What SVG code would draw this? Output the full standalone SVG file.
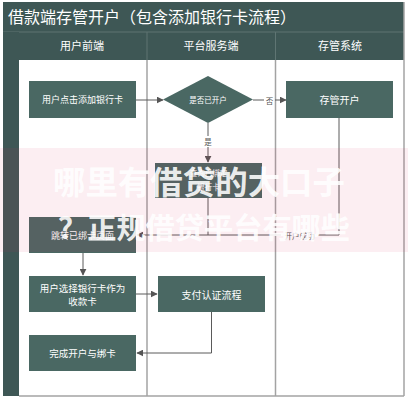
<svg xmlns="http://www.w3.org/2000/svg" width="408" height="400" viewBox="0 0 408 400">
<style>
text{font-family:"Noto Sans CJK SC","Liberation Sans",sans-serif;}
.box{fill:#4a6863;}
.bt{fill:#ffffff;font-size:9px;text-anchor:middle;dominant-baseline:central;}
.ht{fill:#ffffff;font-size:11px;text-anchor:middle;}
.lane{stroke:#a3a3a3;stroke-width:1.5;fill:none;}
.con{stroke:#5a5a5a;stroke-width:1;fill:none;}
.lbl{fill:#555555;font-size:7.5px;text-anchor:middle;dominant-baseline:central;}
.wm{fill:#ffffff;font-weight:bold;fill-opacity:0.9;}
</style>
<defs>
<marker id="arr" viewBox="0 0 10 10" refX="9" refY="5" markerWidth="7" markerHeight="7" orient="auto" markerUnits="userSpaceOnUse">
<path d="M0,0 L10,5 L0,10 z" fill="#555555"/>
</marker>
</defs>
<rect x="0" y="0" width="408" height="400" fill="#ffffff"/>
<g id="frame">
<rect x="3" y="2" width="401" height="30" fill="#3e5755"/>
<text x="8" y="23" fill="#ffffff" font-size="16">借款端存管开户（包含添加银行卡流程）</text>
<rect x="3" y="32" width="401" height="28" fill="#3e5755"/>
<line x1="3" y1="32" x2="404" y2="32" stroke="#5f7573" stroke-width="1"/>
<rect x="3" y="32" width="16" height="364" fill="#3e5755"/>
<line x1="147" y1="32" x2="147" y2="60" stroke="#5f7573" stroke-width="1"/>
<line x1="275.5" y1="32" x2="275.5" y2="60" stroke="#5f7573" stroke-width="1"/>
<text class="ht" x="82" y="50">用户前端</text>
<text class="ht" x="211" y="50">平台服务端</text>
<text class="ht" x="340" y="50">存管系统</text>
<line class="lane" x1="147" y1="60" x2="147" y2="396"/>
<line class="lane" x1="275.5" y1="60" x2="275.5" y2="396"/>
<line class="lane" x1="404" y1="2" x2="404" y2="396"/>
<line class="lane" x1="19" y1="396" x2="404" y2="396"/>
</g>
<g id="connectors">
<line class="con" x1="136" y1="100" x2="163" y2="100" marker-end="url(#arr)"/>
<line class="con" x1="253" y1="100" x2="264" y2="100"/>
<line class="con" x1="275" y1="100" x2="286" y2="100" marker-end="url(#arr)"/>
<text class="lbl" x="269.5" y="100">否</text>
<line class="con" x1="208" y1="123" x2="208" y2="136"/>
<line class="con" x1="208" y1="147" x2="208" y2="162" marker-end="url(#arr)"/>
<text class="lbl" x="208" y="141.5">是</text>
<polyline class="con" points="339,118 339,235 318,235"/>
<line class="con" x1="281" y1="235" x2="137" y2="235" marker-end="url(#arr)"/>
<text class="lbl" x="299.5" y="235">开户成功</text>
<line class="con" x1="208" y1="198" x2="208" y2="235"/>
<line class="con" x1="83" y1="253" x2="83" y2="275" marker-end="url(#arr)"/>
<line class="con" x1="136" y1="294" x2="157" y2="294" marker-end="url(#arr)"/>
<polyline class="con" points="211.5,312 211.5,353 137,353" marker-end="url(#arr)"/>
</g>
<g id="n1"><rect class="box" x="29" y="81" width="107" height="37"/><text class="bt" x="82.5" y="99.5">用户点击添加银行卡</text></g>
<g id="n2"><polygon class="box" points="208,76 253,99.5 208,123 163,99.5"/><text class="bt" x="208" y="99.5" style="font-size:7.5px">是否已开户</text></g>
<g id="n3"><rect class="box" x="286" y="81" width="107" height="37"/><text class="bt" x="339.5" y="99.5" style="font-size:10px">存管开户</text></g>
<g id="n4"><rect class="box" x="155" y="163" width="107" height="35"/><text class="bt" x="208.5" y="172.5" style="font-size:7.5px">查询已绑定</text><text class="bt" x="208.5" y="186" style="font-size:7.5px">银行卡</text></g>
<g id="n5"><rect class="box" x="29" y="217" width="107" height="36"/><text class="bt" x="82.5" y="235">跳转已绑卡页面</text></g>
<g id="n6"><rect class="box" x="29" y="276" width="107" height="36"/><text class="bt" x="82.5" y="287.5" style="font-size:9.5px">用户选择银行卡作为</text><text class="bt" x="82.5" y="301" style="font-size:9.5px">收款卡</text></g>
<g id="n7"><rect class="box" x="158" y="276" width="107" height="36"/><text class="bt" x="211.5" y="294" style="font-size:10px">支付认证流程</text></g>
<g id="n8"><rect class="box" x="29" y="335" width="107" height="36"/><text class="bt" x="82.5" y="353" style="font-size:9.5px">完成开户与绑卡</text></g>
<g id="watermark">
<rect x="0" y="148" width="408" height="104" fill="#d72355" fill-opacity="0.08"/>
<text class="wm" x="53" y="194" font-size="32" textLength="292" lengthAdjust="spacingAndGlyphs">哪里有借贷的大口子</text>
<text class="wm" x="58" y="239" font-size="29" textLength="292" lengthAdjust="spacingAndGlyphs">？正规借贷平台有哪些</text>
</g>
</svg>
